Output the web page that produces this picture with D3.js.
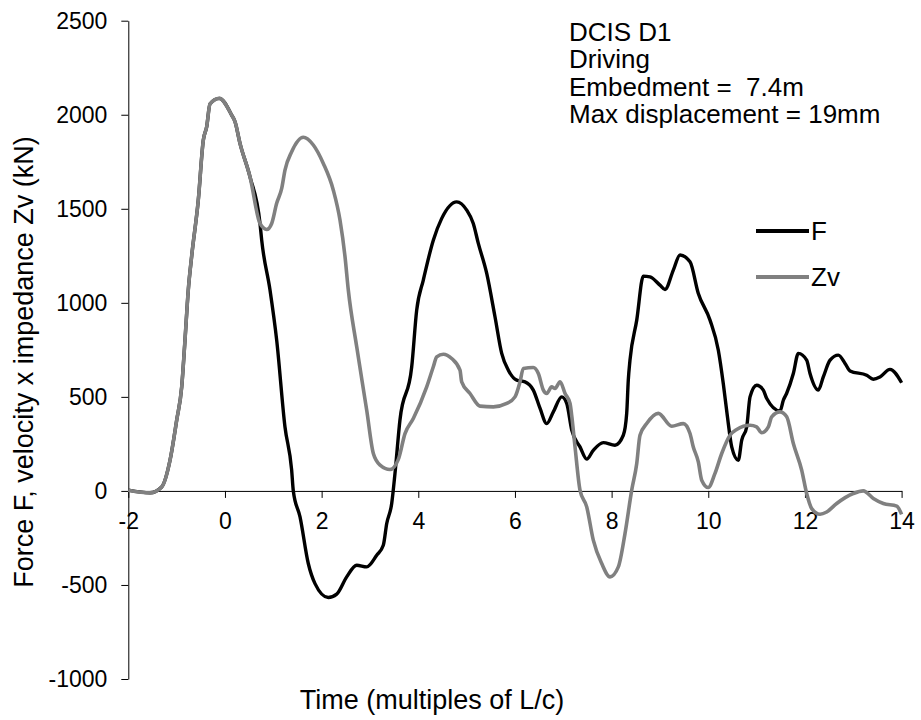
<!DOCTYPE html>
<html>
<head>
<meta charset="utf-8">
<script src="https://cdn.jsdelivr.net/npm/d3@7/dist/d3.min.js"></script>
<style>
  body { margin: 0; background: #fff; }
  svg text { font-family: "Liberation Sans", Arial, sans-serif; fill: #000; }
</style>
</head>
<body>
<svg id="chart" width="921" height="720"></svg>
<script>
// ---- Data ----
const xTicks = [-2, 0, 2, 4, 6, 8, 10, 12, 14];
const yTicks = [-1000, -500, 0, 500, 1000, 1500, 2000, 2500];

const fTime = [-2, -1.55, -1.31, -1.137, -0.999, -0.895, -0.827, -0.759, -0.688, -0.552, -0.448, -0.378, -0.31, -0.117,
  0.139, 0.208, 0.311, 0.518, 0.725, 0.76, 0.932, 1.07, 1.242, 1.38, 1.414, 1.553, 1.724, 1.863, 2.138, 2.312, 2.519,
  2.726, 2.933, 3.14, 3.276, 3.347, 3.45, 3.518, 3.62, 3.864, 3.967, 4.104, 4.311, 4.485, 4.795, 5.002, 5.138, 5.242,
  5.416, 5.587, 5.726, 5.863, 6.036, 6.208, 6.38, 6.518, 6.657, 6.794, 6.968, 7.071, 7.175, 7.346, 7.485, 7.621, 7.828,
  8.07, 8.242, 8.312, 8.345, 8.38, 8.52, 8.656, 8.794, 9.0, 9.105, 9.277, 9.415, 9.622, 9.794, 10.036, 10.208, 10.311,
  10.394, 10.485, 10.622, 10.692, 10.795, 10.864, 11.002, 11.139, 11.21, 11.484, 11.553, 11.62, 11.76, 11.863, 12.036,
  12.105, 12.277, 12.38, 12.52, 12.691, 12.83, 12.933, 13.278, 13.415, 13.553, 13.76, 14.0];
const fValue = [4, -10, 21, 163, 376, 553, 802, 1068, 1250, 1546, 1865, 1936, 2057, 2087,
  1998, 1963, 1848, 1670, 1422, 1333, 1068, 802, 340, 110, 0, -138, -386, -493, -567, -549, -457,
  -395, -404, -342, -289, -173, -67, 93, 376, 660, 961, 1121, 1333, 1449, 1537, 1493, 1422, 1316,
  1156, 926, 731, 642, 589, 580, 536, 440, 358, 420, 500, 465, 323, 234, 169, 216, 257,
  243, 296, 412, 589, 695, 908, 1142, 1138, 1094, 1071, 1174, 1254, 1218, 1050, 908, 748, 570,
  400, 234, 163, 270, 340, 500, 562, 536, 491, 425, 482, 518, 624, 731, 695,
  624, 536, 606, 695, 722, 678, 638, 615, 594, 606, 646, 575];

const zvTime = [-2, -1.55, -1.31, -1.137, -0.999, -0.895, -0.827, -0.759, -0.688, -0.552, -0.448, -0.378, -0.31, -0.117,
  0.139, 0.208, 0.311, 0.518, 0.725, 0.864, 0.967, 1.07, 1.174, 1.242, 1.38, 1.62, 1.828, 2.035, 2.242, 2.38, 2.484,
  2.552, 2.726, 2.933, 3.07, 3.21, 3.415, 3.587, 3.725, 3.897, 4.174, 4.311, 4.381, 4.518, 4.691, 4.863, 4.898, 5.07,
  5.277, 5.553, 5.83, 6.001, 6.105, 6.173, 6.38, 6.484, 6.588, 6.657, 6.76, 6.83, 6.934, 7.037, 7.14, 7.175, 7.243,
  7.346, 7.485, 7.621, 7.795, 7.967, 8.139, 8.277, 8.416, 8.52, 8.587, 8.726, 8.966, 9.243, 9.484, 9.622, 9.69, 9.794,
  9.864, 10.0, 10.139, 10.278, 10.45, 10.588, 10.864, 11.0, 11.106, 11.243, 11.312, 11.484, 11.623, 11.76, 11.933,
  12.036, 12.14, 12.312, 12.45, 12.657, 13.0, 13.208, 13.415, 13.622, 13.9, 14.0];
const zvValue = [4, -10, 21, 163, 376, 553, 802, 1068, 1250, 1546, 1865, 1936, 2057, 2087,
  1998, 1963, 1848, 1670, 1422, 1390, 1422, 1529, 1608, 1706, 1803, 1880, 1839, 1741, 1599, 1440, 1245,
  1068, 766, 429, 199, 137, 114, 168, 305, 385, 553, 660, 713, 727, 704, 642, 580, 518,
  451, 447, 465, 500, 580, 651, 656, 624, 536, 518, 553, 545, 580, 518, 465, 400, 234,
  4, -85, -262, -386, -457, -404, -227, 4, 146, 296, 358, 412, 344, 358, 305, 234, 154,
  57, 18, 93, 199, 296, 327, 349, 340, 309, 340, 394, 420, 394, 252, 110,
  -14, -94, -124, -112, -67, -14, 0, -40, -67, -81, -125];

const seriesNames = ["F", "Zv"];
const seriesColors = ["#000000", "#808080"];
const annotationLines = ["DCIS D1", "Driving", "Embedment =  7.4m", "Max displacement = 19mm"];
const xTitle = "Time (multiples of L/c)";
const yTitle = "Force F, velocity x impedance Zv (kN)";

// ---- Drawing ----
const svg = d3.select("#chart");
const plotLeft = 128.3, plotRight = 901.6, plotTop = 20.7, plotBottom = 679;

const x = d3.scaleLinear().domain([-2, 14]).range([plotLeft, plotRight]);
const y = d3.scaleLinear().domain([-1000, 2500]).range([plotBottom, plotTop]);

const tickFont = 23;
const fmt = d => String(d);

// Y axis
const yAxis = svg.append("g")
  .attr("transform", `translate(${plotLeft},0)`)
  .call(d3.axisLeft(y).tickValues(yTicks).tickSize(7).tickSizeOuter(0).tickPadding(14).tickFormat(fmt));
yAxis.selectAll("text").style("font-size", tickFont + "px").attr("font-family", null);
yAxis.selectAll("path, line").attr("stroke", "#000").attr("stroke-width", 1);

// X axis at y = 0
const xAxis = svg.append("g")
  .attr("transform", `translate(0,${y(0)})`)
  .call(d3.axisBottom(x).tickValues(xTicks).tickSize(7).tickSizeOuter(0).tickPadding(15).tickFormat(fmt));
xAxis.selectAll("text").style("font-size", tickFont + "px").attr("font-family", null);
xAxis.selectAll("path, line").attr("stroke", "#000").attr("stroke-width", 1);

const line = d3.line().x(d => x(d[0])).y(d => y(d[1])).curve(d3.curveMonotoneX);

const fData = fTime.map((t, i) => [t, fValue[i]]);
const zvData = zvTime.map((t, i) => [t, zvValue[i]]);

svg.append("path").datum(fData)
  .attr("d", line).attr("fill", "none").attr("stroke", seriesColors[0])
  .attr("stroke-width", 3.4).attr("stroke-linejoin", "round");
svg.append("path").datum(zvData)
  .attr("d", line).attr("fill", "none").attr("stroke", seriesColors[1])
  .attr("stroke-width", 3.6).attr("stroke-linejoin", "round");

// Axis titles
svg.append("text")
  .attr("x", 432).attr("y", 709)
  .attr("text-anchor", "middle").style("font-size", "27px")
  .text(xTitle);
svg.append("text")
  .attr("transform", `translate(33,362) rotate(-90)`)
  .attr("text-anchor", "middle").style("font-size", "27px")
  .text(yTitle);

// Annotation
const ann = svg.append("text").attr("x", 569).attr("y", 41)
  .style("font-size", "26px").style("white-space", "pre").attr("xml:space", "preserve");
annotationLines.forEach((s, i) => {
  ann.append("tspan").attr("x", 569).attr("y", 41 + i * 27.3).text(s);
});

// Legend
const legY = [231, 277];
seriesNames.forEach((name, i) => {
  svg.append("line")
    .attr("x1", 756).attr("x2", 809).attr("y1", legY[i]).attr("y2", legY[i])
    .attr("stroke", seriesColors[i]).attr("stroke-width", 4);
  svg.append("text")
    .attr("x", 811).attr("y", legY[i] + 9)
    .style("font-size", "26px").text(name);
});
</script>
</body>
</html>
